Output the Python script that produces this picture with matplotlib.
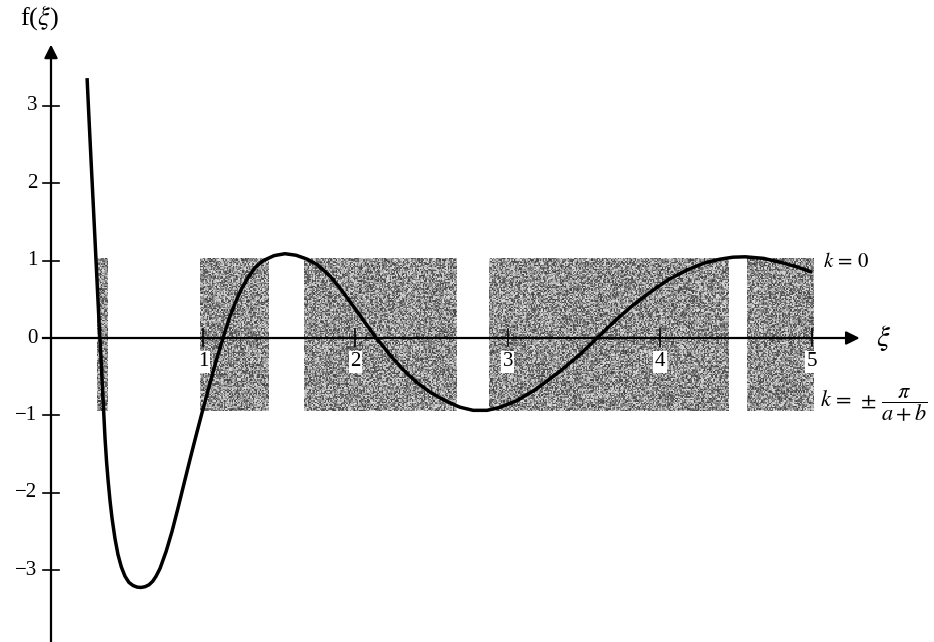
import numpy as np
import matplotlib
matplotlib.use("Agg")
import matplotlib.pyplot as plt

plt.rcParams['font.family'] = 'serif'
plt.rcParams['font.serif'] = ['Liberation Serif', 'DejaVu Serif']
plt.rcParams['mathtext.fontset'] = 'stix'

# f(xi) curve, read point by point
xi = [0.237, 0.250, 0.263, 0.276, 0.289, 0.302, 0.315, 0.329, 0.342, 0.355,
      0.365, 0.375, 0.388, 0.401, 0.42, 0.44, 0.462, 0.486, 0.512, 0.539,
      0.565, 0.591, 0.618, 0.644, 0.668, 0.69, 0.716, 0.756, 0.795, 0.834,
      0.874, 0.913, 0.953, 0.99, 1.045, 1.084, 1.13, 1.17, 1.209, 1.25,
      1.294, 1.34, 1.393, 1.465, 1.537, 1.61, 1.682, 1.748, 1.833, 1.90,
      1.945, 2.03, 2.129, 2.227, 2.313, 2.40, 2.49, 2.589, 2.687, 2.773,
      2.865, 2.95, 3.06, 3.18, 3.344, 3.476, 3.587, 3.66, 3.738, 3.82,
      3.955, 4.06, 4.179, 4.29, 4.396, 4.48, 4.56, 4.68, 4.79, 4.90,
      5.0]
f = [3.36, 2.82, 2.30, 1.79, 1.27, 0.75, 0.23, -0.28, -0.80, -1.30,
     -1.60, -1.84, -2.11, -2.33, -2.59, -2.80, -2.96, -3.08, -3.16, -3.20,
     -3.22, -3.225, -3.215, -3.19, -3.145, -3.08, -2.98, -2.76, -2.50, -2.20,
     -1.88, -1.57, -1.26, -0.98, -0.58, -0.30, 0.0, 0.25, 0.45, 0.63,
     0.78, 0.91, 1.0, 1.065, 1.09, 1.07, 1.02, 0.95, 0.80, 0.64,
     0.52, 0.29, 0.02, -0.22, -0.41, -0.57, -0.70, -0.81, -0.895, -0.935,
     -0.935, -0.895, -0.81, -0.67, -0.43, -0.21, 0.0, 0.14, 0.28, 0.42,
     0.62, 0.76, 0.88, 0.97, 1.02, 1.045, 1.05, 1.03, 0.98, 0.92,
     0.85]

# allowed bands (shaded strips)
band_lo = [0.30, 0.98, 1.66, 2.88, 4.57]
band_hi = [0.37, 1.43, 2.66, 4.45, 5.01]
band_top = 1.02
band_bot = -0.95

xticks = [1, 2, 3, 4, 5]
yticks = [-3, -2, -1, 0, 1, 2, 3]

fig = plt.figure(figsize=(9.34, 6.42), dpi=100)
ax = fig.add_axes([0, 0, 1, 1])
ax.set_xlim(-0.335, 5.80)
ax.set_ylim(-3.93, 4.37)
ax.axis('off')

# grainy texture for the bands
rng = np.random.default_rng(7)
for lo, hi in zip(band_lo, band_hi):
    cols = max(2, int((hi - lo) * 152 / 1.3))
    rows = int((band_top - band_bot) * 77 / 1.3)
    tex = rng.random((rows, cols))
    ax.imshow(tex, cmap='gray', vmin=-0.4, vmax=1.2, extent=(lo, hi, band_bot, band_top),
              aspect='auto', interpolation='nearest', zorder=1)

# axes with arrows
ax.plot([-0.05, 5.25], [0, 0], color='black', lw=1.6, zorder=3)
ax.annotate('', xy=(5.33, 0), xytext=(5.2, 0),
            arrowprops=dict(arrowstyle='-|>', color='black', lw=1.6, mutation_scale=20), zorder=3)
ax.plot([0, 0], [-3.93, 3.7], color='black', lw=1.6, zorder=3)
ax.annotate('', xy=(0, 3.83), xytext=(0, 3.6),
            arrowprops=dict(arrowstyle='-|>', color='black', lw=1.6, mutation_scale=20), zorder=3)

for t in yticks:
    ax.plot([-0.05, 0.05], [t, t], color='black', lw=1.2, zorder=3)
    lab = str(t).replace('-', '\u2212')
    ax.text(-0.09, t, lab, ha='right', va='center', fontsize=15, zorder=4)

for t in xticks:
    ax.plot([t, t], [-0.1, 0.12], color='black', lw=1.2, zorder=3)
    ax.text(t, -0.31, str(t), ha='center', va='center', fontsize=15, zorder=4,
            bbox=dict(facecolor='white', edgecolor='none', pad=1.0))

ax.plot(xi, f, color='black', lw=2.5, solid_joinstyle='round', solid_capstyle='butt', zorder=5)

ax.text(-0.072, 4.14, r'f($\xi$)', ha='center', va='center', fontsize=19)
ax.text(5.47, 0.0, r'$\xi$', ha='center', va='center', fontsize=21)
ax.text(5.07, 0.97, r'$k\,=\,0$', ha='left', va='center', fontsize=15)
ax.text(5.05, -0.87, r'$k\,=\,\pm\,\dfrac{\pi}{a+b}$', ha='left', va='center', fontsize=16)

fig.savefig('out.png', dpi=100)
